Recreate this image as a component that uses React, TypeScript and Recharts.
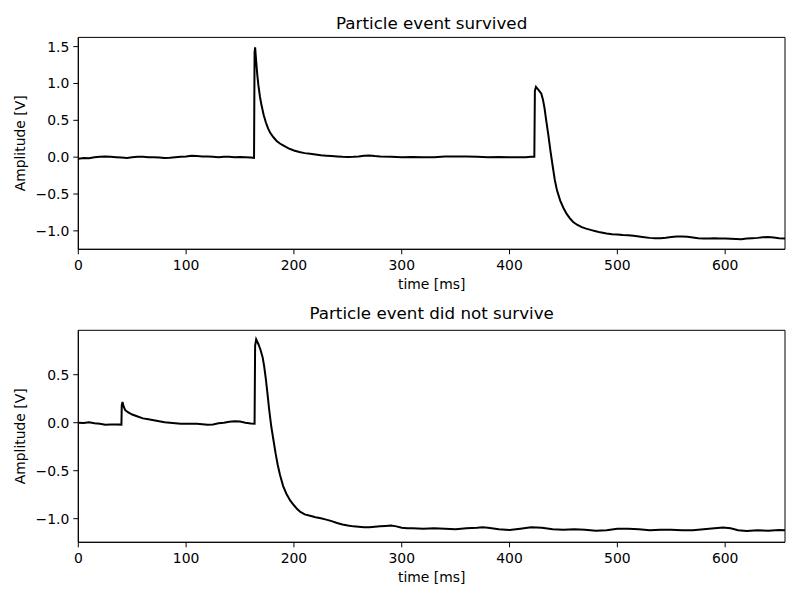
import React from "react";
import { LineChart, Line, XAxis, YAxis, ReferenceArea } from "recharts";

// time [ms] and amplitude [V] for the event that survived
const survivedT = [
  0, 5, 10, 15, 20, 25, 30, 35, 40, 45, 50, 55, 60, 65, 70, 75, 80, 85, 90, 95,
  100, 105, 110, 115, 120, 125, 130, 135, 140, 145, 150, 155, 160, 163,
  163.5, 164, 165, 166, 167, 168.5, 170, 172, 174, 176, 178, 181, 184, 187, 190, 195,
  200, 205, 210, 215, 220, 225, 230, 235, 240, 245, 250, 255, 260, 265, 270, 275, 280,
  290, 300, 310, 320, 330, 340, 350, 360, 370, 380, 390, 400, 410, 415, 420, 423,
  423.5, 424.5, 427, 429.5, 431, 432.5, 434, 436, 438, 440, 442, 444, 447, 450, 453,
  456, 459, 463, 467, 471, 476, 480, 484, 490, 495, 500, 505, 510, 515, 520, 525, 530,
  535, 540, 545, 550, 555, 560, 565, 570, 575, 580, 585, 590, 595, 600, 605, 610, 615,
  620, 625, 630, 635, 640, 645, 650, 655.5,
];
const survivedV = [
  -0.02, -0.01, -0.015, 0.0, 0.005, 0.01, 0.005, 0.0, -0.005, -0.01, 0.0, 0.005, 0.005, 0.0, 0.0, -0.005, -0.012, -0.008, -0.002, 0.005,
  0.01, 0.018, 0.015, 0.01, 0.01, 0.005, 0.0, 0.005, 0.005, 0.0, 0.002, 0.0, -0.005, -0.01,
  1.42, 1.49, 1.3, 1.12, 0.98, 0.82, 0.7, 0.57, 0.47, 0.39, 0.33, 0.27, 0.22, 0.185, 0.16, 0.12,
  0.09, 0.07, 0.055, 0.045, 0.035, 0.025, 0.02, 0.015, 0.01, 0.005, 0.002, 0.005, 0.01, 0.02, 0.022, 0.015, 0.01,
  0.005, 0.0, 0.002, -0.002, 0.0, 0.008, 0.01, 0.008, 0.005, 0.0, 0.002, 0.0, -0.002, 0.0, 0.005, 0.005,
  0.9, 0.955, 0.91, 0.86, 0.78, 0.66, 0.5, 0.3, 0.08, -0.12, -0.31, -0.45, -0.59, -0.69, -0.77,
  -0.83, -0.88, -0.92, -0.95, -0.97, -0.99, -1.005, -1.02, -1.035, -1.045, -1.05, -1.055, -1.058, -1.065, -1.075, -1.085, -1.095,
  -1.1, -1.1, -1.092, -1.082, -1.078, -1.078, -1.08, -1.09, -1.1, -1.105, -1.104, -1.1, -1.102, -1.105, -1.108, -1.11, -1.112,
  -1.105, -1.1, -1.095, -1.088, -1.083, -1.09, -1.1, -1.105,
];

// time [ms] and amplitude [V] for the event that did not survive
const diedT = [
  0, 5, 10, 15, 20, 25, 30, 35, 40, 40.3, 41, 42, 43.5, 46, 50, 55, 60, 65, 70, 75,
  80, 85, 90, 95, 100, 105, 110, 115, 120, 125, 130, 135, 140, 145, 150, 155, 160, 163.5,
  164, 165, 167, 169, 171, 172.5, 174, 175.5, 177, 179, 181, 183, 185, 187, 190, 193, 196.5,
  200, 203, 206, 210, 215, 220, 225, 230, 235, 240, 245, 250, 255, 260, 265, 270, 275, 280,
  285, 290, 295, 300, 305, 310, 320, 330, 340, 350, 360, 370, 375, 380, 390, 400, 410, 420,
  430, 440, 450, 460, 470, 480, 490, 500, 510, 520, 530, 540, 550, 560, 570, 580, 590, 598,
  605, 612, 620, 630, 640, 650, 655.5,
];
const diedV = [
  0.0, -0.002, 0.005, -0.005, -0.01, -0.022, -0.02, -0.018, -0.02, 0.18, 0.215, 0.17, 0.13, 0.11, 0.085, 0.065, 0.045, 0.035, 0.025, 0.015,
  0.005, 0.0, -0.005, -0.01, -0.01, -0.012, -0.01, -0.015, -0.022, -0.018, -0.005, 0.0, 0.01, 0.015, 0.012, 0.0, -0.008, -0.01,
  0.8, 0.868, 0.82, 0.76, 0.68, 0.58, 0.45, 0.3, 0.14, -0.04, -0.18, -0.32, -0.44, -0.54, -0.66, -0.74, -0.81,
  -0.86, -0.9, -0.93, -0.955, -0.97, -0.985, -0.995, -1.01, -1.025, -1.045, -1.06, -1.072, -1.08, -1.085, -1.09, -1.09, -1.085, -1.08,
  -1.075, -1.07, -1.08, -1.095, -1.1, -1.1, -1.105, -1.1, -1.105, -1.11, -1.1, -1.095, -1.09, -1.095, -1.11, -1.118, -1.105, -1.09,
  -1.095, -1.11, -1.115, -1.11, -1.115, -1.125, -1.12, -1.105, -1.105, -1.11, -1.12, -1.115, -1.115, -1.12, -1.12, -1.11, -1.1, -1.092,
  -1.1, -1.12, -1.128, -1.12, -1.125, -1.118, -1.12,
];

const xTicks = [0, 100, 200, 300, 400, 500, 600];
const xDomain = [0, 655.5];
const topYTicks = [-1.0, -0.5, 0.0, 0.5, 1.0, 1.5];
const topYDomain = [-1.25, 1.625];
const bottomYTicks = [-1.0, -0.5, 0.0, 0.5];
const bottomYDomain = [-1.246, 0.9625];

const titles = ["Particle event survived", "Particle event did not survive"];
const xLabel = "time [ms]";
const yLabel = "Amplitude [V]";

const FONT = "DejaVu Sans, sans-serif";

const toRows = (t: number[], v: number[]) => t.map((x, i) => ({ t: x, v: v[i] }));

const fmtY = (v: number) => {
  const s = Math.abs(v).toFixed(1);
  return v < 0 ? "\u2212" + s : s;
};

const tickStyle = { fontFamily: FONT, fontSize: 13.9, fill: "#000" };

function Panel(props: {
  rows: { t: number; v: number }[];
  yTicks: number[];
  yDomain: number[];
  marginTop: number;
  marginBottom: number;
}) {
  const { rows, yTicks, yDomain, marginTop, marginBottom } = props;
  return (
    <LineChart
      width={800}
      height={300}
      data={rows}
      margin={{ top: marginTop, right: 15, bottom: marginBottom, left: 0 }}
    >
      <XAxis
        dataKey="t"
        type="number"
        domain={xDomain}
        ticks={xTicks}
        allowDataOverflow
        height={30}
        tickSize={5}
        tickMargin={6}
        stroke="#000"
        tick={tickStyle}
        tickLine={{ stroke: "#000", strokeWidth: 1 }}
        axisLine={{ stroke: "#000", strokeWidth: 1 }}
      />
      <YAxis
        type="number"
        domain={yDomain}
        ticks={yTicks}
        allowDataOverflow
        width={78.3}
        tickSize={5}
        tickMargin={4}
        tickFormatter={fmtY}
        tick={tickStyle}
        tickLine={{ stroke: "#000", strokeWidth: 1 }}
        axisLine={{ stroke: "#000", strokeWidth: 1 }}
      />
      <Line
        type="linear"
        dataKey="v"
        stroke="#000"
        strokeWidth={2}
        dot={false}
        isAnimationActive={false}
      />
      <ReferenceArea
        x1={xDomain[0]}
        x2={xDomain[1]}
        y1={yDomain[0]}
        y2={yDomain[1]}
        fill="none"
        fillOpacity={0}
        stroke="#000"
        strokeWidth={1}
        strokeOpacity={1}
        ifOverflow="visible"
      />
    </LineChart>
  );
}

export default function App() {
  const plotCx = (78.3 + 785) / 2;
  return (
    <div
      style={{
        position: "absolute",
        left: 0,
        top: 0,
        width: 800,
        height: 600,
        background: "#fff",
        overflow: "hidden",
      }}
    >
      <div style={{ position: "absolute", left: 0, top: 0 }}>
        <Panel
          rows={toRows(survivedT, survivedV)}
          yTicks={topYTicks}
          yDomain={topYDomain}
          marginTop={37.4}
          marginBottom={20.7}
        />
      </div>
      <div style={{ position: "absolute", left: 0, top: 300 }}>
        <Panel
          rows={toRows(diedT, diedV)}
          yTicks={bottomYTicks}
          yDomain={bottomYDomain}
          marginTop={30.3}
          marginBottom={27.7}
        />
      </div>
      <svg
        width={800}
        height={600}
        style={{ position: "absolute", left: 0, top: 0, pointerEvents: "none" }}
        fontFamily={FONT}
      >
        <text x={plotCx} y={29.3} textAnchor="middle" fontSize={16.7} fill="#000">
          {titles[0]}
        </text>
        <text x={plotCx} y={289.3} textAnchor="middle" fontSize={13.9} fill="#000">
          {xLabel}
        </text>
        <text x={plotCx} y={319.4} textAnchor="middle" fontSize={16.7} fill="#000">
          {titles[1]}
        </text>
        <text x={plotCx} y={582.3} textAnchor="middle" fontSize={13.9} fill="#000">
          {xLabel}
        </text>
        <text
          x={25.5}
          y={143.4}
          textAnchor="middle"
          fontSize={13.9}
          fill="#000"
          transform="rotate(-90 25.5 143.4)"
        >
          {yLabel}
        </text>
        <text
          x={25.5}
          y={436.3}
          textAnchor="middle"
          fontSize={13.9}
          fill="#000"
          transform="rotate(-90 25.5 436.3)"
        >
          {yLabel}
        </text>
      </svg>
    </div>
  );
}
